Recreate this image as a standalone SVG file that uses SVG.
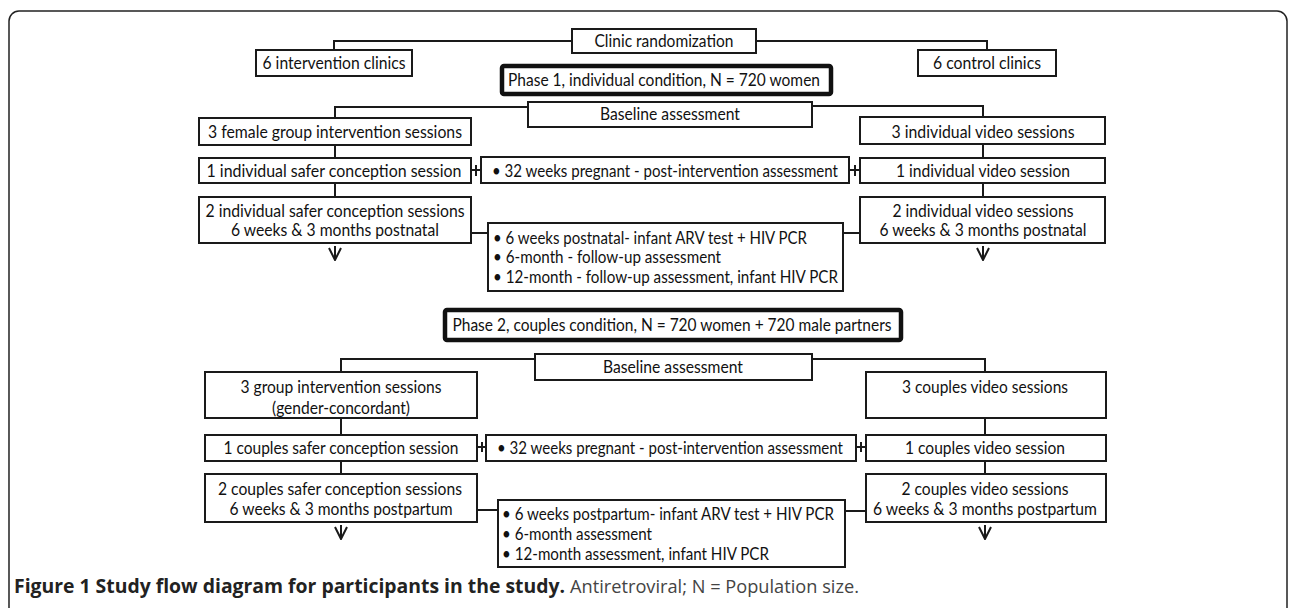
<svg xmlns="http://www.w3.org/2000/svg" width="1290" height="608" viewBox="0 0 1290 608">
<style>
.box{fill:#fff;stroke:#1a1a1a;stroke-width:2}
.thick{fill:#fff;stroke:#111;stroke-width:4.5}
.c{fill:none;stroke:#1a1a1a;stroke-width:2}
.t{font-family:Lato,'Liberation Sans',sans-serif;font-size:17px;fill:#111}
.m{text-anchor:middle}
.capb{font-family:'Open Sans','Liberation Sans',sans-serif;font-size:19px;font-weight:bold;fill:#222}
.capr{font-family:'Open Sans','Liberation Sans',sans-serif;font-size:19px;fill:#444}
</style>
<defs>
<marker id="arr" viewBox="0 0 14 14" refX="7" refY="13" markerWidth="14" markerHeight="14" markerUnits="userSpaceOnUse" orient="0">
<path d="M1,1 L7,13 L13,1" fill="none" stroke="#1a1a1a" stroke-width="2"/>
</marker>
</defs>
<rect x="0" y="0" width="1290" height="608" fill="#fff"/>
<rect x="9" y="11" width="1278" height="640" rx="10" fill="none" stroke="#222" stroke-width="1.5"/>

<g id="connectors">
<path class="c" d="M572,41 H334 V50"/>
<path class="c" d="M756,41 H987 V50"/>
<path class="c" d="M528,107 H335 V118"/>
<path class="c" d="M812,106 H983 V117"/>
<path class="c" d="M335,145 V158"/>
<path class="c" d="M983,144 V158"/>
<path class="c" d="M471,170 H481 M476,165 V176"/>
<path class="c" d="M849,170 H860 M855,165 V176"/>
<path class="c" d="M335,183 V197"/>
<path class="c" d="M983,183 V197"/>
<path class="c" d="M471,233 H488"/>
<path class="c" d="M843,233 H860"/>
<path class="c" d="M335,246 V260" marker-end="url(#arr)"/>
<path class="c" d="M983,246 V260" marker-end="url(#arr)"/>
<path class="c" d="M535,359 H341 V372"/>
<path class="c" d="M812,359 H985 V372"/>
<path class="c" d="M341,418 V435"/>
<path class="c" d="M985,418 V435"/>
<path class="c" d="M477,447 H486 M482,442 V452"/>
<path class="c" d="M856,447 H866 M861,442 V452"/>
<path class="c" d="M341,461 V474"/>
<path class="c" d="M985,461 V474"/>
<path class="c" d="M477,510 H498"/>
<path class="c" d="M845,511 H866"/>
<path class="c" d="M341,525 V539" marker-end="url(#arr)"/>
<path class="c" d="M985,525 V539" marker-end="url(#arr)"/>
</g>

<g id="clinic-randomization">
<rect class="box" x="572" y="29" width="184" height="24"/>
<text class="t m" x="664" y="46.5" textLength="139" lengthAdjust="spacingAndGlyphs">Clinic randomization</text>
</g>
<g id="intervention-clinics">
<rect class="box" x="256" y="50" width="156" height="26"/>
<text class="t m" x="334" y="68.5" textLength="143" lengthAdjust="spacingAndGlyphs">6 intervention clinics</text>
</g>
<g id="control-clinics">
<rect class="box" x="918" y="50" width="138" height="26"/>
<text class="t m" x="987" y="68.5" textLength="108" lengthAdjust="spacingAndGlyphs">6 control clinics</text>
</g>
<g id="phase1">
<rect class="thick" x="502" y="66" width="329" height="28" rx="2"/>
<text class="t m" x="664" y="85.5" textLength="312" lengthAdjust="spacingAndGlyphs">Phase 1, individual condition, N = 720 women</text>
</g>
<g id="baseline1">
<rect class="box" x="528" y="102" width="284" height="25"/>
<text class="t m" x="670" y="120" textLength="140" lengthAdjust="spacingAndGlyphs">Baseline assessment</text>
</g>
<g id="female-group">
<rect class="box" x="199" y="118" width="272" height="27"/>
<text class="t m" x="335" y="138" textLength="254" lengthAdjust="spacingAndGlyphs">3 female group intervention sessions</text>
</g>
<g id="individual-video3">
<rect class="box" x="860" y="117" width="245" height="27"/>
<text class="t m" x="983" y="137.5" textLength="183" lengthAdjust="spacingAndGlyphs">3 individual video sessions</text>
</g>
<g id="individual-safer1">
<rect class="box" x="199" y="158" width="272" height="25"/>
<text class="t m" x="334" y="177" textLength="255" lengthAdjust="spacingAndGlyphs">1 individual safer conception session</text>
</g>
<g id="post-intervention1">
<rect class="box" x="481" y="157" width="368" height="26"/>
<text class="t" x="492" y="177" textLength="346" lengthAdjust="spacingAndGlyphs">• 32 weeks pregnant - post-intervention assessment</text>
</g>
<g id="individual-video1">
<rect class="box" x="860" y="158" width="245" height="25"/>
<text class="t m" x="983" y="177" textLength="174" lengthAdjust="spacingAndGlyphs">1 individual video session</text>
</g>
<g id="individual-safer2">
<rect class="box" x="199" y="197" width="272" height="46"/>
<text class="t m" x="335" y="216.5" textLength="259" lengthAdjust="spacingAndGlyphs">2 individual safer conception sessions</text>
<text class="t m" x="335" y="235.5" textLength="208" lengthAdjust="spacingAndGlyphs">6 weeks &amp; 3 months postnatal</text>
</g>
<g id="individual-video2">
<rect class="box" x="860" y="197" width="245" height="46"/>
<text class="t m" x="983" y="216.5" textLength="181" lengthAdjust="spacingAndGlyphs">2 individual video sessions</text>
<text class="t m" x="983" y="235.5" textLength="207" lengthAdjust="spacingAndGlyphs">6 weeks &amp; 3 months postnatal</text>
</g>
<g id="followup1">
<rect class="box" x="488" y="223" width="355" height="68"/>
<text class="t" x="493" y="243.5" textLength="314" lengthAdjust="spacingAndGlyphs">• 6 weeks postnatal- infant ARV test + HIV PCR</text>
<text class="t" x="493" y="262.5" textLength="228" lengthAdjust="spacingAndGlyphs">• 6-month - follow-up assessment</text>
<text class="t" x="493" y="282.5" textLength="345" lengthAdjust="spacingAndGlyphs">• 12-month - follow-up assessment, infant HIV PCR</text>
</g>

<g id="phase2">
<rect class="thick" x="445" y="310" width="456" height="30" rx="2"/>
<text class="t m" x="672" y="330.5" textLength="439" lengthAdjust="spacingAndGlyphs">Phase 2, couples condition, N = 720 women + 720 male partners</text>
</g>
<g id="baseline2">
<rect class="box" x="535" y="354" width="277" height="26"/>
<text class="t m" x="673" y="372.5" textLength="140" lengthAdjust="spacingAndGlyphs">Baseline assessment</text>
</g>
<g id="group-sessions">
<rect class="box" x="205" y="372" width="272" height="46"/>
<text class="t m" x="341" y="392.5" textLength="201" lengthAdjust="spacingAndGlyphs">3 group intervention sessions</text>
<text class="t m" x="341" y="413.5" textLength="138" lengthAdjust="spacingAndGlyphs">(gender-concordant)</text>
</g>
<g id="couples-video3">
<rect class="box" x="866" y="372" width="240" height="46"/>
<text class="t m" x="985" y="392.5" textLength="166" lengthAdjust="spacingAndGlyphs">3 couples video sessions</text>
</g>
<g id="couples-safer1">
<rect class="box" x="205" y="435" width="272" height="26"/>
<text class="t m" x="341" y="453.5" textLength="235" lengthAdjust="spacingAndGlyphs">1 couples safer conception session</text>
</g>
<g id="post-intervention2">
<rect class="box" x="486" y="435" width="370" height="26"/>
<text class="t" x="497" y="453.5" textLength="346" lengthAdjust="spacingAndGlyphs">• 32 weeks pregnant - post-intervention assessment</text>
</g>
<g id="couples-video1">
<rect class="box" x="866" y="435" width="240" height="26"/>
<text class="t m" x="985" y="453.5" textLength="160" lengthAdjust="spacingAndGlyphs">1 couples video session</text>
</g>
<g id="couples-safer2">
<rect class="box" x="205" y="474" width="272" height="48"/>
<text class="t m" x="340" y="494.5" textLength="244" lengthAdjust="spacingAndGlyphs">2 couples safer conception sessions</text>
<text class="t m" x="341" y="514.5" textLength="223" lengthAdjust="spacingAndGlyphs">6 weeks &amp; 3 months postpartum</text>
</g>
<g id="couples-video2">
<rect class="box" x="866" y="474" width="240" height="48"/>
<text class="t m" x="985" y="494.5" textLength="167" lengthAdjust="spacingAndGlyphs">2 couples video sessions</text>
<text class="t m" x="985" y="514.5" textLength="224" lengthAdjust="spacingAndGlyphs">6 weeks &amp; 3 months postpartum</text>
</g>
<g id="followup2">
<rect class="box" x="498" y="500" width="347" height="67"/>
<text class="t" x="502" y="519.5" textLength="332" lengthAdjust="spacingAndGlyphs">• 6 weeks postpartum- infant ARV test + HIV PCR</text>
<text class="t" x="502" y="539.5" textLength="150" lengthAdjust="spacingAndGlyphs">• 6-month assessment</text>
<text class="t" x="502" y="559.5" textLength="267" lengthAdjust="spacingAndGlyphs">• 12-month assessment, infant HIV PCR</text>
</g>

<g id="caption">
<text class="capb" x="14" y="593" textLength="551" lengthAdjust="spacingAndGlyphs">Figure 1 Study flow diagram for participants in the study.</text>
<text class="capr" x="570" y="593" textLength="289" lengthAdjust="spacingAndGlyphs">Antiretroviral; N = Population size.</text>
</g>
</svg>
